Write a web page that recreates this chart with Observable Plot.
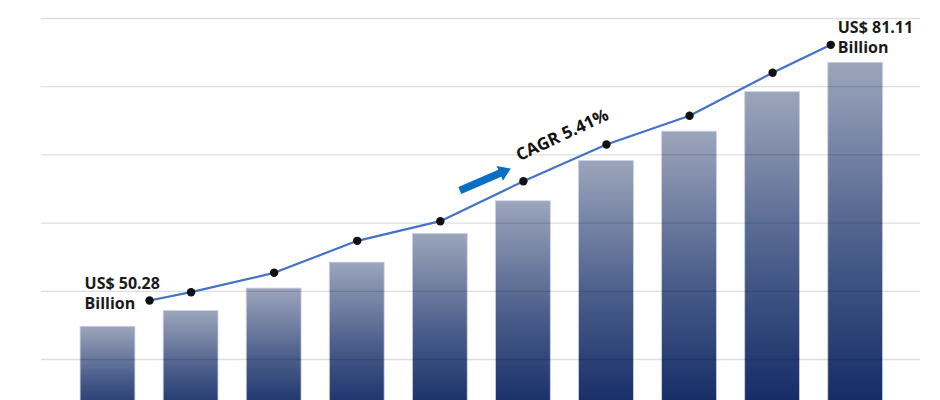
<!DOCTYPE html>
<html>
<head>
<meta charset="utf-8">
<script src="https://cdn.jsdelivr.net/npm/d3@7"></script>
<script src="https://cdn.jsdelivr.net/npm/@observablehq/plot@0.6"></script>
<style>
  html, body { margin: 0; padding: 0; background: #fff; overflow: hidden; }
  #chart { width: 940px; height: 400px; }
</style>
</head>
<body>
<div id="chart"></div>
<script>
// ---- data ----
const slots = [0, 1, 2, 3, 4, 5, 6, 7, 8, 9];
const barValues = [14.8, 17.1, 20.4, 24.2, 28.4, 33.2, 39.1, 43.4, 49.2, 53.5];
const linePos = [0.5, 1, 2, 3, 4, 5, 6, 7, 8, 8.7];
const lineValues = [18.65, 19.87, 22.71, 27.40, 30.28, 36.14, 41.53, 45.73, 52.04, 56.14];
const gridTicks = [10, 20, 30, 40, 50, 60];
const startLabel = "US$ 50.28\nBillion";
const endLabel = "US$ 81.11\nBillion";
const cagrLabel = "CAGR 5.41%";
// annotation anchors (data units)
const cagrPos = [5.47];
const cagrVal = [42.9];
const arrowPos = [4.235];
const arrowVal = [34.78];

const bars = slots.map((s, i) => ({slot: s, value: barValues[i]}));
const points = linePos.map((p, i) => ({pos: p, value: lineValues[i]}));
const first = [points[0]];
const last = [points[points.length - 1]];

const blockArrow = {
  draw(context, l) {
    const hw = 3.8, hh = 8, hl = 12;
    context.moveTo(-hw, 0);
    context.lineTo(-hw, -(l - hl));
    context.lineTo(-hh, -(l - hl));
    context.lineTo(0, -l);
    context.lineTo(hh, -(l - hl));
    context.lineTo(hw, -(l - hl));
    context.lineTo(hw, 0);
    context.closePath();
  }
};

const font = "'Open Sans', 'Noto Sans', sans-serif";

const chart = Plot.plot({
  width: 940,
  height: 400,
  marginLeft: 41,
  marginRight: 20,
  marginTop: 0,
  marginBottom: 0,
  style: {fontFamily: font, background: "#fff"},
  x: {type: "linear", domain: [0, 9], range: [107.5, 855.2], axis: null},
  y: {domain: [0, 60], range: [427.2, 18], axis: null},
  marks: [
    Plot.rectY(bars, {
      x1: d => d.slot - 0.33,
      x2: d => d.slot + 0.33,
      y1: 0,
      y2: "value",
      fill: "url(#barGrad)",
      stroke: "#c9d2e6",
      strokeWidth: 0.8,
      clip: true
    }),
    Plot.gridY(gridTicks, {stroke: "#000", strokeOpacity: 0.13, strokeWidth: 1.3}),
    Plot.line(points, {x: "pos", y: "value", stroke: "#4472c4", strokeWidth: 2.2}),
    Plot.dot(points, {x: "pos", y: "value", r: 4.2, fill: "#111", stroke: "none"}),
    Plot.text(first, {x: "pos", y: "value", text: () => startLabel, textAnchor: "start",
      lineAnchor: "middle", lineHeight: 1.25, dx: -65, dy: -8, fontSize: 16, fontWeight: 700, fill: "#1a1a1a"}),
    Plot.text(last, {x: "pos", y: "value", text: () => endLabel, textAnchor: "start",
      lineAnchor: "middle", lineHeight: 1.25, dx: 7, dy: -8, fontSize: 16, fontWeight: 700, fill: "#1a1a1a"}),
    Plot.text(cagrPos, {x: d => d, y: (d, i) => cagrVal[i], text: () => cagrLabel, rotate: -25,
      textAnchor: "middle", lineAnchor: "middle", fontSize: 17, fontWeight: 700, fill: "#111"}),
    Plot.vector(arrowPos, {x: d => d, y: (d, i) => arrowVal[i], length: 55.5, rotate: 66.7,
      anchor: "start", shape: blockArrow, fill: "#0a6fc2", stroke: "none"})
  ]
});

// gradient definition for the bars
const ns = "http://www.w3.org/2000/svg";
const defs = document.createElementNS(ns, "defs");
const grad = document.createElementNS(ns, "linearGradient");
grad.setAttribute("id", "barGrad");
grad.setAttribute("x1", "0"); grad.setAttribute("y1", "0");
grad.setAttribute("x2", "0"); grad.setAttribute("y2", "1");
[["0%", "#9ca5bb"], ["50%", "#4b5e8b"], ["100%", "#0b2360"]].forEach(([o, c]) => {
  const s = document.createElementNS(ns, "stop");
  s.setAttribute("offset", o);
  s.setAttribute("stop-color", c);
  grad.appendChild(s);
});
defs.appendChild(grad);
chart.insertBefore(defs, chart.firstChild);

document.getElementById("chart").appendChild(chart);
</script>
</body>
</html>
